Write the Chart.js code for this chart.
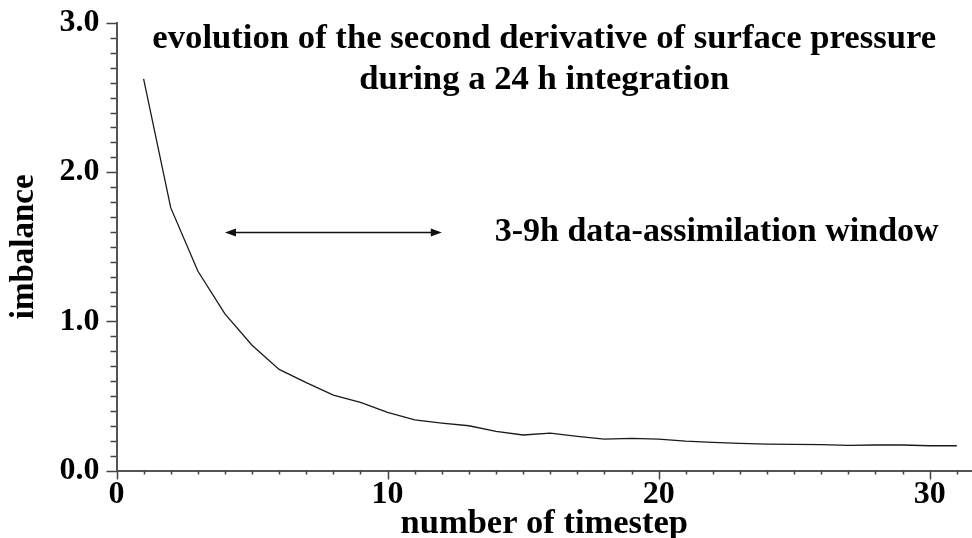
<!DOCTYPE html>
<html><head><meta charset="utf-8">
<script src="https://cdn.jsdelivr.net/npm/chart.js@4/dist/chart.umd.min.js"></script>
<style>html,body{margin:0;padding:0;background:#fff;overflow:hidden}#wrap{width:972px;height:538px;position:relative}</style>
</head><body><div id="wrap"><canvas id="c" width="972" height="538"></canvas></div>
<script>
// ---- data ----
const timesteps = [1,2,3,4,5,6,7,8,9,10,11,12,13,14,15,16,17,18,19,20,21,22,23,24,25,26,27,28,29,30,31];
const imbalance = [2.625,1.762,1.337,1.05,0.84,0.678,0.589,0.505,0.456,0.39,0.34,0.318,0.30,0.262,0.238,0.251,0.229,0.211,0.215,0.211,0.197,0.189,0.182,0.177,0.175,0.173,0.169,0.171,0.171,0.166,0.166];
const xTickValues = [0,10,20,30];
const yTickValues = [0,1,2,3];
const titleLines = ["evolution of the second derivative of surface pressure","during a 24 h integration"];
const windowLabel = "3-9h data-assimilation window";
const windowStart = 4, windowEnd = 12, windowLevel = 1.6;
const xTitle = "number of timestep";
const yTitle = "imbalance";

const SERIF = '"Liberation Serif","Times New Roman",serif';

const decorPlugin = {
  id: 'decor',
  afterDraw(chart) {
    const ctx = chart.ctx, xs = chart.scales.x, ys = chart.scales.y, ca = chart.chartArea;
    ctx.save();
    // tick marks
    ctx.strokeStyle = '#444';
    ctx.lineWidth = 1.5;
    ctx.beginPath();
    for (let v = 0; v <= 30; v++) {
      const py = Math.round(ys.getPixelForValue(v / 10)) + 0.5;
      const len = (v % 10 === 0) ? 10 : 6;
      ctx.moveTo(ca.left - len, py); ctx.lineTo(ca.left, py);
    }
    for (let v = 0; v <= 31; v++) {
      const px = Math.round(xs.getPixelForValue(v)) + 0.5;
      const len = (v % 10 === 0) ? 9 : 4;
      ctx.moveTo(px, ca.bottom); ctx.lineTo(px, ca.bottom + len);
    }
    ctx.stroke();
    // arrow
    const x1 = xs.getPixelForValue(windowStart), x2 = xs.getPixelForValue(windowEnd);
    const ay = Math.round(ys.getPixelForValue(windowLevel)) + 0.5;
    ctx.strokeStyle = '#111'; ctx.fillStyle = '#111'; ctx.lineWidth = 1.3;
    ctx.beginPath(); ctx.moveTo(x1 + 6, ay); ctx.lineTo(x2 - 6, ay); ctx.stroke();
    ctx.beginPath(); ctx.moveTo(x1, ay); ctx.lineTo(x1 + 11, ay - 4); ctx.lineTo(x1 + 11, ay + 4); ctx.closePath(); ctx.fill();
    ctx.beginPath(); ctx.moveTo(x2, ay); ctx.lineTo(x2 - 11, ay - 4); ctx.lineTo(x2 - 11, ay + 4); ctx.closePath(); ctx.fill();
    // texts
    ctx.fillStyle = '#000';
    ctx.textBaseline = 'alphabetic';
    ctx.textAlign = 'center';
    ctx.font = 'bold 34.7px ' + SERIF;
    const cx = (ca.left + ca.right) / 2;
    ctx.fillText(titleLines[0], cx, 48);
    ctx.fillText(titleLines[1], cx, 89);
    ctx.textAlign = 'left';
    ctx.font = 'bold 34px ' + SERIF;
    ctx.fillText(windowLabel, xs.getPixelForValue(13.95), ay + 8.5);
    ctx.restore();
  }
};

new Chart(document.getElementById('c'), {
  type: 'line',
  data: {
    datasets: [{
      data: timesteps.map((t, i) => ({x: t, y: imbalance[i]})),
      borderColor: '#1a1a1a',
      borderWidth: 1.3,
      pointRadius: 0,
      tension: 0,
      fill: false
    }]
  },
  options: {
    responsive: false,
    animation: false,
    devicePixelRatio: 1,
    layout: {padding: {top: 23, right: 0, bottom: 0, left: 0}},
    plugins: {legend: {display: false}, tooltip: {enabled: false}, title: {display: false}},
    scales: {
      x: {
        type: 'linear', min: 0, max: 31.56,
        afterBuildTicks: s => { s.ticks = xTickValues.map(v => ({value: v})); },
        afterFit: s => { s.height = 67.5; s.paddingLeft = 0; s.paddingRight = 0; },
        grid: {display: true, drawOnChartArea: false, drawTicks: false},
        border: {display: true, color: '#555', width: 2},
        ticks: {autoSkip: false, maxRotation: 0, padding: 5, color: '#000', font: {family: SERIF, size: 32, weight: 'bold'}, callback: v => String(v)},
        title: {display: true, text: xTitle, color: '#000', padding: {top: 0, bottom: 0}, font: {family: SERIF, size: 34.5, weight: 'bold', lineHeight: 0.82}}
      },
      y: {
        type: 'linear', min: 0, max: 3,
        afterBuildTicks: s => { s.ticks = yTickValues.map(v => ({value: v})); },
        afterFit: s => { s.width = 116.5; s.paddingTop = 0; s.paddingBottom = 0; },
        grid: {display: true, drawOnChartArea: false, drawTicks: false},
        border: {display: true, color: '#555', width: 2},
        ticks: {padding: 17, color: '#000', font: {family: SERIF, size: 32, weight: 'bold'}, callback: v => Number(v).toFixed(1)},
        title: {display: true, text: yTitle, color: '#000', padding: {top: 8, bottom: 0}, font: {family: SERIF, size: 33, weight: 'bold', lineHeight: 1.0}}
      }
    }
  },
  plugins: [decorPlugin]
});
</script>
</body></html>
